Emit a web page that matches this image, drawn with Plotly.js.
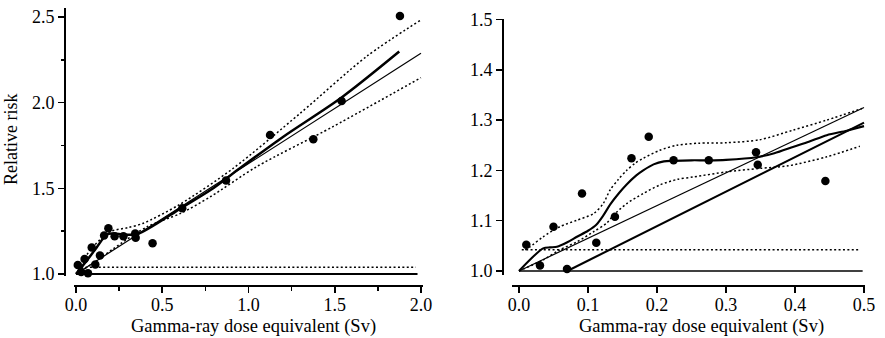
<!DOCTYPE html>
<html>
<head>
<meta charset="utf-8">
<script src="https://cdn.plot.ly/plotly-3.0.1.min.js"></script>
<style>
  html, body { margin: 0; padding: 0; background: #fff; }
  #chart { width: 885px; height: 338px; }
</style>
</head>
<body>
<div id="chart"></div>
<script>
// Observed relative risk by gamma-ray dose equivalent (Sv)
const dose = [0.0106, 0.0304, 0.050, 0.0696, 0.0913, 0.112, 0.139, 0.163, 0.188, 0.224,
              0.275, 0.3435, 0.346, 0.444, 0.616, 0.870, 1.125, 1.376, 1.540, 1.878];
const relRisk = [1.052, 1.011, 1.088, 1.004, 1.154, 1.056, 1.108, 1.224, 1.267, 1.220,
                 1.220, 1.236, 1.211, 1.179, 1.383, 1.545, 1.811, 1.786, 2.010, 2.506];

// Full dose range (0-2 Sv): smoothed fit and its confidence band
const fullSmoothX = [0, 0.06, 0.12, 0.18, 0.22, 0.30, 0.355, 0.45, 0.607, 0.78, 0.95, 1.2, 1.54, 1.874];
const fullSmoothY = [1.0, 1.075, 1.155, 1.232, 1.236, 1.229, 1.232, 1.283, 1.383, 1.49, 1.617, 1.80, 2.03, 2.298];
const fullUpperX = [0.02, 0.1, 0.2, 0.3, 0.39, 0.6, 0.912, 1.3, 1.685, 2.0];
const fullUpperY = [1.05, 1.16, 1.248, 1.27, 1.296, 1.405, 1.617, 1.938, 2.27, 2.483];
const fullLowerX = [0.05, 0.124, 0.22, 0.413, 0.607, 0.78, 1.047, 1.49, 2.0];
const fullLowerY = [1.03, 1.08, 1.15, 1.276, 1.354, 1.451, 1.626, 1.86, 2.146];
// Linear fit over 0-2 Sv
const fullLinX = [0, 2.0];
const fullLinY = [1.0, 2.288];
// Reference levels
const fullBaseX = [0, 1.98];
const fullBaseY = [1.0, 1.0];
const fullRefX = [0.03, 1.97];
const fullRefY = [1.04, 1.04];

// Low dose range (0-0.5 Sv)
const lowSmoothX = [0, 0.035, 0.045, 0.055, 0.07, 0.084, 0.1, 0.112, 0.122, 0.132, 0.145, 0.156,
                    0.17, 0.18, 0.195, 0.21, 0.224, 0.25, 0.275, 0.30, 0.344, 0.37, 0.398, 0.42,
                    0.446, 0.475, 0.5];
const lowSmoothY = [1.0, 1.045, 1.047, 1.048, 1.057, 1.068, 1.080, 1.092, 1.110, 1.132, 1.155, 1.172,
                    1.190, 1.200, 1.212, 1.218, 1.219, 1.220, 1.220, 1.221, 1.226, 1.234, 1.247, 1.257,
                    1.270, 1.279, 1.288];
const lowUpperX = [0.009, 0.016, 0.035, 0.059, 0.084, 0.108, 0.122, 0.132, 0.144, 0.156, 0.168,
                   0.18, 0.204, 0.229, 0.26, 0.301, 0.349, 0.397, 0.446, 0.497];
const lowUpperY = [1.042, 1.048, 1.068, 1.088, 1.101, 1.114, 1.134, 1.161, 1.182, 1.200, 1.214,
                   1.224, 1.240, 1.250, 1.254, 1.255, 1.261, 1.280, 1.300, 1.323];
const lowLowerX = [0, 0.035, 0.059, 0.084, 0.108, 0.127, 0.137, 0.156, 0.18, 0.204, 0.229, 0.253,
                   0.301, 0.349, 0.39, 0.446, 0.494];
const lowLowerY = [1.0, 1.022, 1.042, 1.058, 1.078, 1.095, 1.111, 1.134, 1.154, 1.171, 1.182, 1.187,
                   1.197, 1.204, 1.209, 1.227, 1.248];
// Linear fits over 0-0.5 Sv
const lowLinX = [0, 0.5];
const lowLinY = [1.0, 1.325];
const lowThreshX = [0.07, 0.5];
const lowThreshY = [1.0, 1.295];
// Reference levels
const lowBaseX = [0, 0.498];
const lowBaseY = [1.0, 1.0];
const lowRefX = [0.004, 0.493];
const lowRefY = [1.042, 1.042];

// Tick labels
const fullXTicks = [0, 0.5, 1.0, 1.5, 2.0];
const fullYTicks = [1.0, 1.5, 2.0, 2.5];
const lowXTicks = [0, 0.1, 0.2, 0.3, 0.4, 0.5];
const lowYTicks = [1.0, 1.1, 1.2, 1.3, 1.4, 1.5];

const W = 885, H = 338;
const px = v => v / W;
const py = v => 1 - v / H;

const DOT = '2px,2.4px';
const SERIF = 'Liberation Serif';

function line(x, y, width, dash, axes, shape) {
  return {
    type: 'scatter', mode: 'lines', x: x, y: y,
    xaxis: axes[0], yaxis: axes[1], hoverinfo: 'skip', showlegend: false,
    line: { color: '#000', width: width, dash: dash || 'solid', shape: shape || 'linear', smoothing: 0.8 }
  };
}

const lowDose = [], lowRR = [];
dose.forEach((d, i) => { if (d <= 0.5) { lowDose.push(d); lowRR.push(relRisk[i]); } });

const L = ['x', 'y'], R = ['x2', 'y2'];
const traces = [
  line(fullBaseX, fullBaseY, 2.2, null, L),
  line(fullRefX, fullRefY, 1.5, DOT, L),
  line(fullLinX, fullLinY, 1.2, null, L),
  line(fullUpperX, fullUpperY, 1.5, DOT, L, 'spline'),
  line(fullLowerX, fullLowerY, 1.5, DOT, L, 'spline'),
  line(fullSmoothX, fullSmoothY, 2.5, null, L, 'spline'),
  {
    type: 'scatter', mode: 'markers', x: dose, y: relRisk, xaxis: 'x', yaxis: 'y',
    cliponaxis: false, showlegend: false,
    marker: { color: '#000', size: 8.5 }
  },

  line(lowBaseX, lowBaseY, 1.3, null, R),
  line(lowRefX, lowRefY, 1.5, DOT, R),
  line(lowLinX, lowLinY, 1.2, null, R),
  line(lowThreshX, lowThreshY, 2.1, null, R),
  line(lowUpperX, lowUpperY, 1.5, DOT, R, 'spline'),
  line(lowLowerX, lowLowerY, 1.5, DOT, R, 'spline'),
  line(lowSmoothX, lowSmoothY, 2.1, null, R, 'spline'),
  {
    type: 'scatter', mode: 'markers', x: lowDose, y: lowRR, xaxis: 'x2', yaxis: 'y2',
    cliponaxis: false, showlegend: false,
    marker: { color: '#000', size: 8.5 }
  }
];

const axisBase = {
  showgrid: false, zeroline: false, showline: true,
  linecolor: '#000', linewidth: 1.8,
  ticks: 'outside', ticklen: 6, tickwidth: 1.6, tickcolor: '#000',
  tickfont: { family: SERIF, size: 18, color: '#000' },
  tickformat: '.1f', fixedrange: true
};

const layout = {
  width: W, height: H,
  margin: { l: 0, r: 0, t: 0, b: 0 },
  paper_bgcolor: '#fff', plot_bgcolor: '#fff',
  showlegend: false,
  xaxis: Object.assign({}, axisBase, {
    range: [-0.012, 2.01], domain: [px(73.9), px(422.7)],
    anchor: 'free', position: py(285),
    tickvals: fullXTicks, ticklabelstandoff: -3,
    minor: { tickvals: [0.25, 0.75, 1.25, 1.75], ticks: 'outside', ticklen: 4.5, tickwidth: 1.5, tickcolor: '#000' }
  }),
  yaxis: Object.assign({}, axisBase, {
    range: [0.99, 2.55], domain: [py(275.7), py(8.4)],
    anchor: 'free', position: px(64),
    tickvals: fullYTicks,
    minor: { tickvals: [1.25, 1.75, 2.25], ticks: 'outside', ticklen: 3, tickwidth: 1.5, tickcolor: '#000' }
  }),
  xaxis2: Object.assign({}, axisBase, {
    range: [-0.01, 0.502], domain: [px(512.1), px(865.4)],
    anchor: 'free', position: py(285),
    tickvals: lowXTicks, ticklabelstandoff: -3
  }),
  yaxis2: Object.assign({}, axisBase, {
    range: [0.992, 1.502], domain: [py(275), py(18.5)],
    anchor: 'free', position: px(502),
    tickvals: lowYTicks
  }),
  annotations: [
    {
      text: 'Gamma-ray dose equivalent (Sv)', xref: 'paper', yref: 'paper',
      x: px(253), y: py(326), xanchor: 'center', yanchor: 'middle', showarrow: false,
      font: { family: SERIF, size: 18.5, color: '#000' }
    },
    {
      text: 'Gamma-ray dose equivalent (Sv)', xref: 'paper', yref: 'paper',
      x: px(701), y: py(326), xanchor: 'center', yanchor: 'middle', showarrow: false,
      font: { family: SERIF, size: 18.5, color: '#000' }
    },
    {
      text: 'Relative risk', xref: 'paper', yref: 'paper', textangle: -90,
      x: px(11), y: py(140), xanchor: 'center', yanchor: 'middle', showarrow: false,
      font: { family: SERIF, size: 18, color: '#000' }
    }
  ]
};

Plotly.newPlot('chart', traces, layout, { staticPlot: true, displayModeBar: false });
</script>
</body>
</html>
